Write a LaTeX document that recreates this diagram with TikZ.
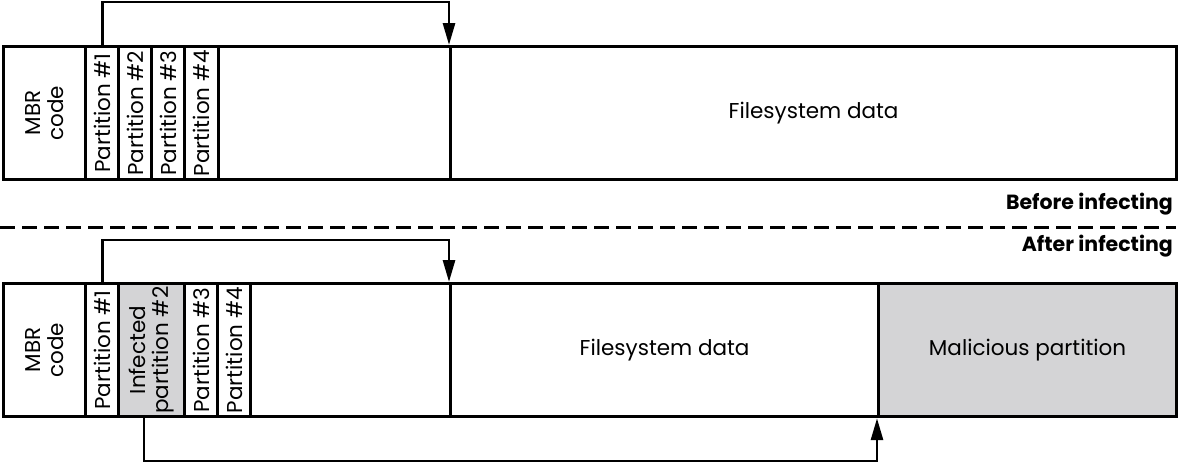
\documentclass[tikz,border=0pt]{standalone}
\usepackage{fontspec}
\setmainfont{Poppins}
\usetikzlibrary{arrows.meta,calc}
\definecolor{shade}{RGB}{212,212,214}
\begin{document}
\begin{tikzpicture}[x=1pt,y=-1pt,
  box/.style={draw=black,line width=3.2pt,rectangle,inner sep=0pt,anchor=north west,minimum height=133pt},
  lbl/.style={font=\fontsize{21.5}{23}\selectfont,align=center,inner sep=0pt},
  vlbl/.style={lbl,rotate=90},
  conn/.style={draw=black,line width=2.8pt,-{Triangle[length=22pt,width=12pt]}},
  state/.style={font=\fontsize{20.5}{22}\selectfont\bfseries,anchor=east,inner sep=0pt}]
\useasboundingbox (0,0) rectangle (1179,461);
% before
\node[box,minimum width=82pt] (mbrA) at (2,45) {};
\node[box,minimum width=33pt] (p1A) at (84,45) {};
\node[box,minimum width=33pt] (p2A) at (117,45) {};
\node[box,minimum width=33pt] (p3A) at (150,45) {};
\node[box,minimum width=34pt] (p4A) at (183,45) {};
\node[box,minimum width=232pt] (gapA) at (217,45) {};
\node[box,minimum width=726pt] (fsA) at (449,45) {};
\node[vlbl] (tmbrA) at (mbrA.center) {MBR\\code};
\node[vlbl] (tp1A) at (p1A.center) {Partition \#1};
\node[vlbl] (tp2A) at (p2A.center) {Partition \#2};
\node[vlbl] (tp3A) at (p3A.center) {Partition \#3};
\node[vlbl] (tp4A) at (p4A.center) {Partition \#4};
\node[lbl] (tfsA) at (fsA.center) {Filesystem data};
\draw[conn] (p1A.north) -- ++(0,-43) -| (fsA.north west);
% separator
\coordinate (dl) at (0,227);
\coordinate (dr) at (1176,227);
\draw[line width=3pt,dash pattern=on 15pt off 7pt] (dl) -- (dr);
\node[state] (before) at (1173,204) {Before infecting};
\node[state] (after) at (1173,246) {After infecting};
% after
\node[box,minimum width=82pt] (mbrB) at (2,282) {};
\node[box,minimum width=33pt] (p1B) at (84,282) {};
\node[box,minimum width=66pt,fill=shade] (p2B) at (117,282) {};
\node[box,minimum width=33pt] (p3B) at (183,282) {};
\node[box,minimum width=33pt] (p4B) at (216,282) {};
\node[box,minimum width=200pt] (gapB) at (249,282) {};
\node[box,minimum width=428pt] (fsB) at (449,282) {};
\node[box,minimum width=298pt,fill=shade] (mal) at (877,282) {};
\node[vlbl] (tmbrB) at (mbrB.center) {MBR\\code};
\node[vlbl] (tp1B) at (p1B.center) {Partition \#1};
\node[vlbl] (tp2B) at (p2B.center) {Infected\\partition \#2};
\node[vlbl] (tp3B) at (p3B.center) {Partition \#3};
\node[vlbl] (tp4B) at (p4B.center) {Partition \#4};
\node[lbl] (tfsB) at (fsB.center) {Filesystem data};
\node[lbl] (tmal) at (mal.center) {Malicious partition};
\draw[conn] (p1B.north) -- ++(0,-42) -| (fsB.north west);
\draw[conn] ($(p2B.south west)+(27,0)$) -- ++(0,43) -| (mal.south west);
\end{tikzpicture}
\end{document}
